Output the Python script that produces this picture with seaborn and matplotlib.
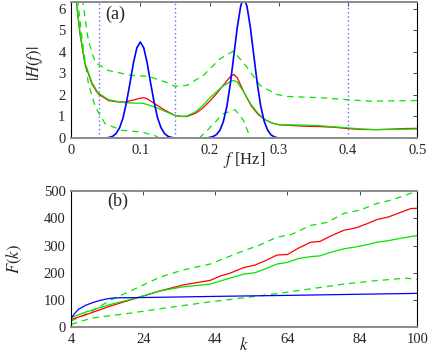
import numpy as np
import matplotlib
matplotlib.use("Agg")
import matplotlib.pyplot as plt
import seaborn as sns

sns.set_theme(style="white")
plt.rcParams["font.family"] = ["Liberation Serif", "DejaVu Serif"]
plt.rcParams["mathtext.fontset"] = "stix"

# ---- panel (a): |H(f)| ----
f_blue = [0.0, 0.05, 0.055, 0.06, 0.065, 0.07, 0.075, 0.08, 0.085, 0.09, 0.095, 0.1,
          0.105, 0.11, 0.115, 0.12, 0.125, 0.13, 0.135, 0.14, 0.145, 0.15,
          0.195, 0.2, 0.205, 0.21, 0.215, 0.22, 0.225, 0.23, 0.235, 0.24, 0.245, 0.249,
          0.254, 0.259, 0.264, 0.269, 0.274, 0.279, 0.284, 0.289, 0.294, 0.3, 0.5]
h_blue = [0.0, 0.0, 0.03, 0.08, 0.21, 0.47, 0.93, 1.65, 2.53, 3.47, 4.18, 4.45,
          4.18, 3.47, 2.53, 1.65, 0.93, 0.47, 0.21, 0.08, 0.03, 0.0,
          0.0, 0.03, 0.07, 0.16, 0.36, 0.77, 1.47, 2.51, 3.81, 5.12, 6.12, 6.5,
          6.12, 5.12, 3.81, 2.51, 1.47, 0.77, 0.36, 0.14, 0.05, 0.0, 0.0]

f_solid = [0.0, 0.005, 0.008, 0.013, 0.02, 0.03, 0.039, 0.054, 0.066, 0.078, 0.09, 0.1, 0.105,
           0.11, 0.121, 0.135, 0.15, 0.16, 0.167, 0.18, 0.19, 0.2, 0.21, 0.22, 0.23, 0.235,
           0.24, 0.25, 0.26, 0.27, 0.28, 0.29, 0.3, 0.32, 0.336, 0.36, 0.38, 0.4, 0.42,
           0.44, 0.46, 0.48, 0.5]
h_red = [8.0, 7.0, 6.2, 4.8, 3.44, 2.52, 2.05, 1.74, 1.68, 1.67, 1.76, 1.85, 1.87,
         1.82, 1.59, 1.3, 1.05, 1.0, 1.0, 1.15, 1.38, 1.7, 2.05, 2.45, 2.85, 2.95,
         2.8, 2.1, 1.5, 1.1, 0.85, 0.7, 0.62, 0.58, 0.55, 0.53, 0.5, 0.44, 0.4,
         0.39, 0.41, 0.44, 0.45]
h_green = [8.0, 7.0, 6.25, 4.85, 3.5, 2.58, 2.1, 1.78, 1.7, 1.64, 1.62, 1.62, 1.6,
           1.55, 1.44, 1.25, 1.05, 1.0, 1.02, 1.22, 1.5, 1.85, 2.15, 2.42, 2.62, 2.67,
           2.6, 2.1, 1.55, 1.15, 0.85, 0.7, 0.62, 0.61, 0.6, 0.57, 0.52, 0.47, 0.42,
           0.39, 0.4, 0.41, 0.42]

f_up = [0.01, 0.018, 0.025, 0.035, 0.054, 0.088, 0.112, 0.136, 0.15, 0.167, 0.191,
        0.215, 0.2345, 0.254, 0.273, 0.297, 0.312, 0.36, 0.398, 0.432, 0.5]
h_up = [8.0, 6.07, 4.5, 3.5, 3.13, 2.9, 2.86, 2.6, 2.4, 2.44, 2.9,
        3.67, 4.03, 3.29, 2.44, 2.02, 1.93, 1.87, 1.78, 1.71, 1.74]

f_lo1 = [0.006, 0.0106, 0.018, 0.025, 0.035, 0.049, 0.073, 0.102, 0.121, 0.127]
h_lo1 = [8.0, 6.07, 4.06, 2.52, 1.44, 0.67, 0.36, 0.28, 0.12, 0.0]
f_lo2 = [0.185, 0.195, 0.206, 0.22, 0.237, 0.249, 0.259]
h_lo2 = [0.0, 0.3, 0.67, 1.13, 1.31, 0.82, 0.0]

band_edges = [0.04, 0.15, 0.4]

# ---- panel (b): F(k) ----
k_blue = [4, 5, 6, 8, 10, 12, 14.4, 16, 18, 20, 30, 44, 66, 80, 100]
F_blue = [33, 50, 65, 80, 90, 98, 105, 107, 108, 108, 110, 113, 117, 120, 124]

k_red = [4, 8, 14.8, 20, 28.7, 35, 42.6, 45.4, 48, 51.9, 55, 58, 61.1, 64, 67, 70.4,
         73, 76, 79.6, 83, 86, 88.9, 92, 95, 98.2, 100]
F_red = [28, 45, 77, 98, 133, 155, 172, 188, 198, 219, 228, 245, 265, 267, 290, 312,
         315, 335, 356, 365, 380, 396, 405, 420, 436, 437]

k_green = [4, 8, 14.8, 20, 28.7, 35, 42.6, 46, 51.9, 55, 58, 61.1, 64, 67, 70.4, 73,
           76, 79.6, 83, 86, 88.9, 92, 96, 100]
F_green = [35, 55, 83, 100, 133, 148, 158, 172, 195, 200, 215, 232, 238, 252, 259, 262,
           275, 288, 295, 303, 312, 318, 328, 337]

k_up = [4, 10, 15, 20, 28.7, 35, 42.6, 46, 51.9, 56, 61.1, 65, 70.4, 75, 79.6, 84,
        88.9, 93, 98.2, 100]
F_up = [22, 60, 100, 130, 184, 210, 232, 250, 281, 300, 331, 340, 374, 385, 418, 430,
        455, 468, 492, 500]

k_lo = [4, 9.7, 20.8, 30, 42.6, 52, 61.1, 70, 79.6, 88, 96.7, 100]
F_lo = [10, 33, 52, 70, 93, 108, 123, 140, 158, 170, 180, 176]

BLUE = "#0000ff"
RED = "#ff0000"
GREEN = "#00e600"
DASH = (0, (5, 4))

fig = plt.figure(figsize=(4.36, 3.54), dpi=100)
ax1 = fig.add_axes([0.163, 0.610, 0.794, 0.384])
ax2 = fig.add_axes([0.163, 0.076, 0.794, 0.384])

for x in band_edges:
    ax1.axvline(x, color="#6666ff", linestyle=(0, (1, 2)), lw=1.0, zorder=1)

sns.lineplot(x=f_up, y=h_up, ax=ax1, color=GREEN, lw=0.9, linestyle=DASH,
             sort=False, estimator=None)
sns.lineplot(x=f_lo1, y=h_lo1, ax=ax1, color=GREEN, lw=0.9, linestyle=DASH,
             sort=False, estimator=None)
sns.lineplot(x=f_lo2, y=h_lo2, ax=ax1, color=GREEN, lw=0.9, linestyle=DASH,
             sort=False, estimator=None)
sns.lineplot(x=f_solid, y=h_red, ax=ax1, color=RED, lw=0.9, sort=False, estimator=None)
sns.lineplot(x=f_solid, y=h_green, ax=ax1, color=GREEN, lw=0.9, sort=False, estimator=None)
sns.lineplot(x=f_blue, y=h_blue, ax=ax1, color=BLUE, lw=1.2, sort=False, estimator=None)

ax1.set_xlim(0, 0.5)
ax1.set_ylim(0, 6.3)
ax1.set_xticks([0, 0.1, 0.2, 0.3, 0.4, 0.5])
ax1.set_xticklabels(["0", "0.1", "0.2", "0.3", "0.4", "0.5"])
ax1.set_yticks([0, 1, 2, 3, 4, 5, 6])
ax1.set_xlabel("$f$ [Hz]", fontsize=12)
ax1.set_ylabel("$|H(f)|$", fontsize=12)
ax1.xaxis.set_label_coords(0.5, -0.09)
ax1.yaxis.set_label_coords(-0.075, 0.55)
ax1.text(0.049, 5.73, "(a)", fontsize=13, va="center")

sns.lineplot(x=k_up, y=F_up, ax=ax2, color=GREEN, lw=0.9, linestyle=DASH,
             sort=False, estimator=None)
sns.lineplot(x=k_lo, y=F_lo, ax=ax2, color=GREEN, lw=0.9, linestyle=DASH,
             sort=False, estimator=None)
sns.lineplot(x=k_red, y=F_red, ax=ax2, color=RED, lw=0.9, sort=False, estimator=None)
sns.lineplot(x=k_green, y=F_green, ax=ax2, color=GREEN, lw=0.9, sort=False, estimator=None)
sns.lineplot(x=k_blue, y=F_blue, ax=ax2, color=BLUE, lw=0.9, sort=False, estimator=None)

ax2.set_xlim(4, 100)
ax2.set_ylim(0, 500)
ax2.set_xticks([4, 24, 44, 64, 84, 100])
ax2.set_yticks([0, 100, 200, 300, 400, 500])
ax2.set_xlabel("$k$", fontsize=12)
ax2.set_ylabel("$F(k)$", fontsize=12)
ax2.xaxis.set_label_coords(0.5, -0.075)
ax2.yaxis.set_label_coords(-0.136, 0.5)
ax2.text(14, 463, "(b)", fontsize=13, va="center")

for ax in (ax1, ax2):
    ax.tick_params(direction="in", top=True, right=True, length=3, width=0.6,
                   labelsize=10.5, pad=4)
    for side in ("left", "right"):
        ax.spines[side].set_linewidth(0.8)
        ax.spines[side].set_color("black")
    for side in ("top", "bottom"):
        ax.spines[side].set_linewidth(1.4)
        ax.spines[side].set_color("#8c8c8c")

fig.savefig("out.png", dpi=100)
